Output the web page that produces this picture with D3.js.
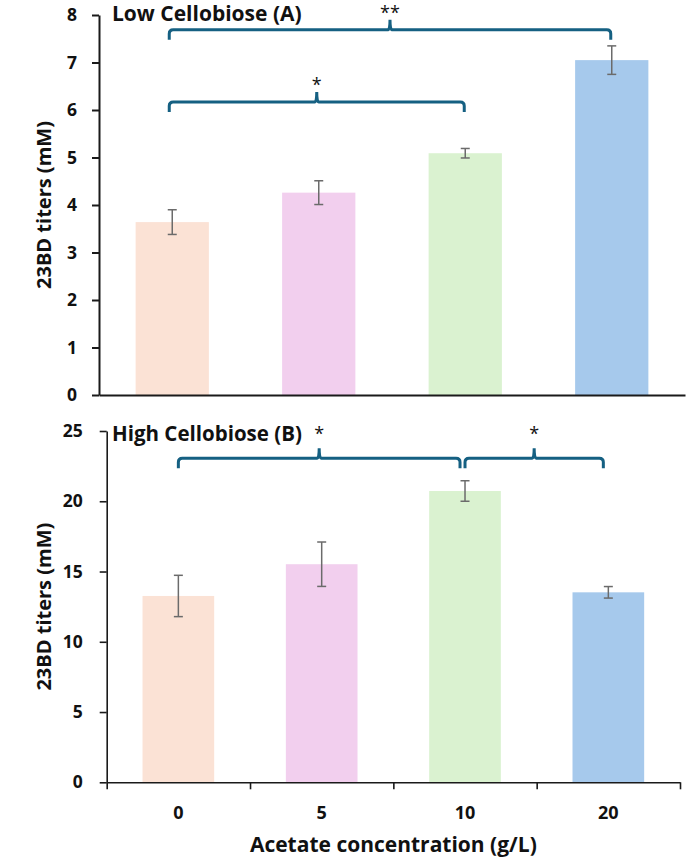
<html>
<head>
<meta charset="utf-8">
<script src="https://d3js.org/d3.v7.min.js"></script>
<style>
  body { margin: 0; background: #fff; }
  text { font-family: "Open Sans", "Liberation Sans", sans-serif; fill: #111; }
</style>
</head>
<body>
<div id="chart"></div>
<script>

// ---- data ----
var categories = ["0", "5", "10", "20"];
var barColors = ["#fbe2d5", "#f2cfee", "#daf2d0", "#a6c9ec"];

var lowMeans = [3.64, 4.26, 5.09, 7.05];
var lowErrors = [0.26, 0.25, 0.10, 0.30];
var lowTicks = [0, 1, 2, 3, 4, 5, 6, 7, 8];
var lowBrackets = [
  {from: "0", to: "10", level: 6.17, label: "*"},
  {from: "0", to: "20", level: 7.69, label: "**"}
];

var highMeans = [13.26, 15.52, 20.73, 13.52];
var highErrors = [1.47, 1.58, 0.73, 0.41];
var highTicks = [0, 5, 10, 15, 20, 25];
var highBrackets = [
  {from: "0", to: "10", level: 23.06, label: "*"},
  {from: "10", to: "20", level: 23.06, label: "*"}
];

var W = 688, H = 860;
var bracketColor = "#156082";

var svg = d3.select("#chart")
  .append("svg")
    .attr("width", W)
    .attr("height", H);

function drawPanel(opt) {
  var g = svg.append("g");

  var x = d3.scaleBand()
    .domain(categories)
    .range([opt.left, opt.right])
    .paddingInner(opt.pad)
    .paddingOuter(opt.pad / 2);

  var y = d3.scaleLinear()
    .domain([0, d3.max(opt.ticks)])
    .range([opt.bottom, opt.top]);

  var rows = categories.map(function(c, i) {
    return {cat: c, mean: opt.means[i], err: opt.errors[i], color: barColors[i]};
  });

  // bars
  g.selectAll(".bar")
    .data(rows)
    .enter()
    .append("rect")
      .attr("x", function(d) { return x(d.cat); })
      .attr("width", x.bandwidth())
      .attr("y", function(d) { return y(d.mean); })
      .attr("height", function(d) { return y(0) - y(d.mean); })
      .attr("fill", function(d) { return d.color; });

  // error bars
  var eb = g.selectAll(".err")
    .data(rows)
    .enter()
    .append("g")
      .attr("stroke", "#6b6b6b")
      .attr("stroke-width", 1.5);
  eb.append("line")
    .attr("x1", function(d) { return x(d.cat) + x.bandwidth() / 2; })
    .attr("x2", function(d) { return x(d.cat) + x.bandwidth() / 2; })
    .attr("y1", function(d) { return y(d.mean - d.err); })
    .attr("y2", function(d) { return y(d.mean + d.err); });
  [-1, 1].forEach(function(s) {
    eb.append("line")
      .attr("x1", function(d) { return x(d.cat) + x.bandwidth() / 2 - 4.5; })
      .attr("x2", function(d) { return x(d.cat) + x.bandwidth() / 2 + 4.5; })
      .attr("y1", function(d) { return y(d.mean + s * d.err); })
      .attr("y2", function(d) { return y(d.mean + s * d.err); });
  });

  // y axis
  var yAxis = g.append("g")
    .attr("transform", "translate(" + opt.left + ",0)")
    .call(d3.axisLeft(y).tickValues(opt.ticks).tickSize(7).tickSizeOuter(0).tickPadding(opt.tickPad));
  yAxis.selectAll("path, line").attr("stroke", "#1a1a1a").attr("stroke-width", opt.axisWidth);
  yAxis.selectAll("text")
    .style("font-size", "17.5px")
    .style("font-weight", 700)
    .attr("fill", "#111");

  // x axis line
  var xAxis = g.append("g")
    .attr("transform", "translate(0," + opt.bottom + ")")
    .call(d3.axisBottom(x).tickSize(0).tickSizeOuter(0).tickFormat(""));
  xAxis.select("path").attr("stroke", "#1a1a1a").attr("stroke-width", opt.axisWidth);

  if (opt.showCats) {
    var edges = d3.scaleLinear().domain([0, categories.length]).range([opt.left, opt.right]);
    var tickAxis = g.append("g")
      .attr("transform", "translate(0," + opt.bottom + ")")
      .call(d3.axisBottom(edges).tickValues(d3.range(categories.length + 1)).tickSize(7).tickSizeOuter(0).tickFormat(""));
    tickAxis.select("path").remove();
    tickAxis.selectAll("line").attr("stroke", "#1a1a1a").attr("stroke-width", opt.axisWidth);

    g.selectAll(".cat")
      .data(categories)
      .enter()
      .append("text")
        .attr("x", function(d) { return x(d) + x.bandwidth() / 2; })
        .attr("y", opt.bottom + 37)
        .attr("text-anchor", "middle")
        .style("font-size", "18px")
        .style("font-weight", 700)
        .text(function(d) { return d; });

    g.append("text")
      .attr("x", (opt.left + opt.right) / 2)
      .attr("y", opt.bottom + 70)
      .attr("text-anchor", "middle")
      .style("font-size", "21px")
      .style("font-weight", 700)
      .text("Acetate concentration (g/L)");
  }

  // y title
  g.append("text")
    .attr("transform", "translate(51," + ((opt.top + opt.bottom) / 2) + ") rotate(-90)")
    .attr("text-anchor", "middle")
    .style("font-size", "20px")
    .style("font-weight", 700)
    .text("23BD titers (mM)");

  // panel title
  g.append("text")
    .attr("x", opt.titleX)
    .attr("y", opt.titleY)
    .style("font-size", opt.titleSize)
    .style("font-weight", 700)
    .text(opt.title);

  // significance brackets
  opt.brackets.forEach(function(b) {
    var x1 = x(b.from) + x.bandwidth() / 2 + opt.inset[0];
    var x2 = x(b.to) + x.bandwidth() / 2 + opt.inset[1];
    var xm = (x1 + x2) / 2;
    var yb = y(b.level);
    var r = 4, leg = 10, spike = 10;
    var p = d3.path();
    p.moveTo(x1, yb + leg);
    p.lineTo(x1, yb + r);
    p.quadraticCurveTo(x1, yb, x1 + r, yb);
    p.lineTo(xm - 2, yb);
    p.quadraticCurveTo(xm, yb, xm, yb - spike);
    p.moveTo(xm, yb - spike);
    p.quadraticCurveTo(xm, yb, xm + 2, yb);
    p.lineTo(x2 - r, yb);
    p.quadraticCurveTo(x2, yb, x2, yb + r);
    p.lineTo(x2, yb + leg);
    g.append("path")
      .attr("d", p.toString())
      .attr("fill", "none")
      .attr("stroke", bracketColor)
      .attr("stroke-width", 3)
      .attr("stroke-linejoin", "round");
    g.append("text")
      .attr("x", xm)
      .attr("y", yb - spike + opt.starDy)
      .attr("text-anchor", "middle")
      .style("font-size", "18px")
      .text(b.label);
  });
}

drawPanel({
  left: 99, right: 685, top: 15, bottom: 395, pad: 0.5,
  means: lowMeans, errors: lowErrors, ticks: lowTicks, brackets: lowBrackets,
  title: "Low Cellobiose (A)", titleX: 112, titleY: 21, titleSize: "21px",
  axisWidth: 2, tickPad: 15, showCats: false, inset: [-3, -1], starDy: -1
});

drawPanel({
  left: 106.7, right: 680, top: 431, bottom: 782.3, pad: 0.5,
  means: highMeans, errors: highErrors, ticks: highTicks, brackets: highBrackets,
  title: "High Cellobiose (B)", titleX: 112, titleY: 441, titleSize: "20.5px",
  axisWidth: 1.6, tickPad: 17, showCats: true, inset: [0, -5], starDy: -8
});

</script>
</body>
</html>
